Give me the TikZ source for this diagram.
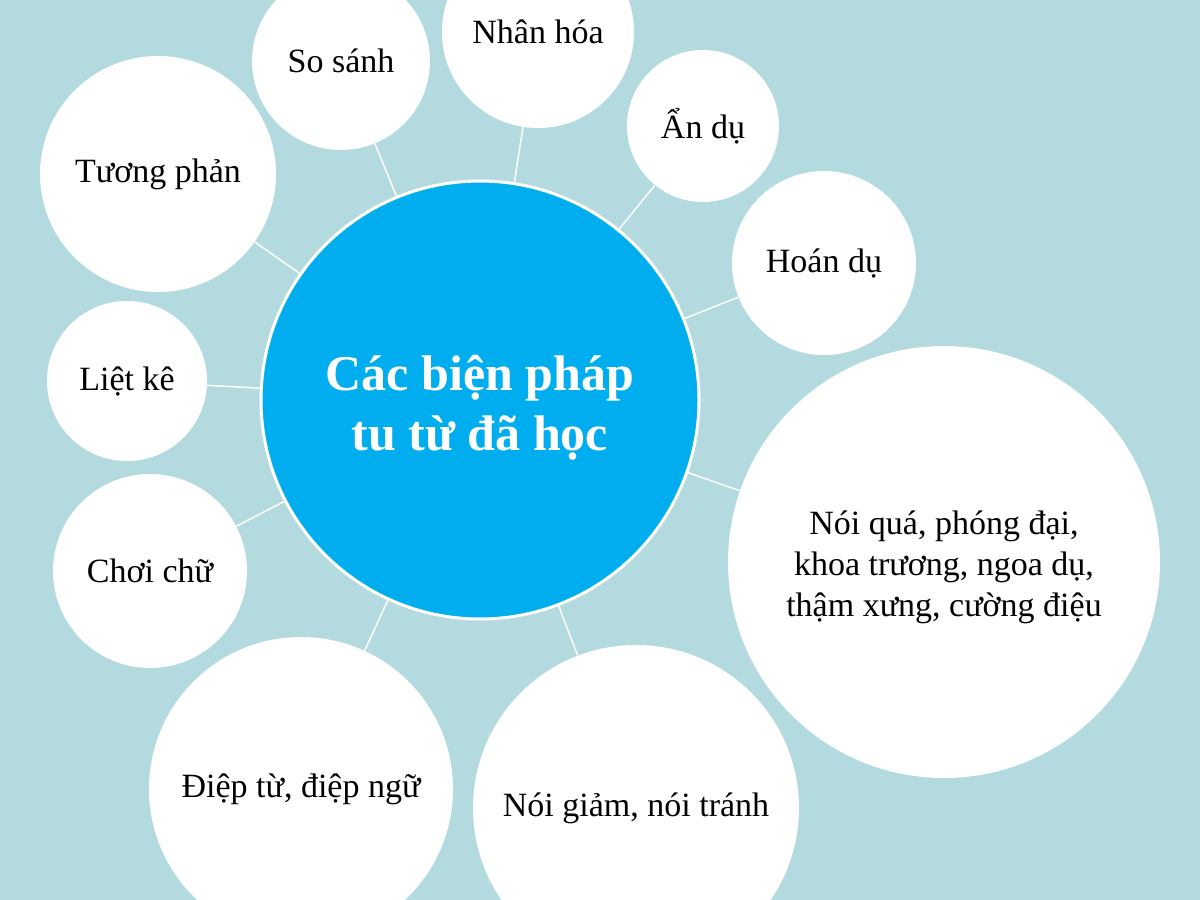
\documentclass[tikz,border=0pt]{standalone}
\usepackage{fontspec}
\setmainfont{Liberation Serif}
\usepackage{tikz}
\definecolor{bgteal}{HTML}{B3DADF}
\definecolor{hubblue}{HTML}{00AEEF}

\begin{document}
\begin{tikzpicture}[x=0.5pt,y=-0.5pt,
    bubble/.style={circle, fill=white, inner sep=0pt, align=center,
        font=\fontsize{17}{20.4}\selectfont},
    hubnode/.style={circle, fill=hubblue, draw=white, line width=1.5pt,
        inner sep=0pt, align=center, text=white,
        font=\fontsize{25}{30}\selectfont\bfseries},
    link/.style={draw=white, line width=0.75pt}]
        % Background
        \useasboundingbox (0,0) rectangle (1200,900);
        \clip (0,0) rectangle (1200,900);
        \fill[bgteal] (0,0) rectangle (1200,900);

        % Nodes
        \node[hubnode, minimum size=219pt] (hub) at (480,400) {\rule{0pt}{25pt}Các biện pháp\\tu từ đã học};
        \node[bubble, minimum size=89pt]  (sosanh)    at (341,61)  {So sánh};
        \node[bubble, minimum size=96pt]  (nhanhoa)   at (538,32)  {Nhân hóa};
        \node[bubble, minimum size=76pt]  (andu)      at (703,126) {Ẩn dụ};
        \node[bubble, minimum size=92pt]  (hoandu)    at (824,263) {Hoán dụ};
        \node[bubble, minimum size=216pt] (noiqua)    at (944,562) {\rule{0pt}{17pt}Nói quá, phóng đại,\\khoa trương, ngoa dụ,\\thậm xưng, cường điệu};
        \node[bubble, minimum size=163pt] (noigiam)   at (636,808) {Nói giảm, nói tránh};
        \node[bubble, minimum size=152pt] (dieptu)    at (301,789) {Điệp từ, điệp ngữ};
        \node[bubble, minimum size=97pt]  (choichu)   at (150,571) {Chơi chữ};
        \node[bubble, minimum size=80pt]  (lietke)    at (127,381) {Liệt kê};
        \node[bubble, minimum size=118pt] (tuongphan) at (158,174) {Tương phản};

        % Edges
        \draw[link] (hub) -- (sosanh);
        \draw[link] (hub) -- (nhanhoa);
        \draw[link] (hub) -- (andu);
        \draw[link] (hub) -- (hoandu);
        \draw[link] (hub) -- (noiqua);
        \draw[link] (hub) -- (noigiam);
        \draw[link] (hub) -- (dieptu);
        \draw[link] (hub) -- (choichu);
        \draw[link] (hub) -- (lietke);
        \draw[link] (hub) -- (tuongphan);
    \end{tikzpicture}
\end{document}
